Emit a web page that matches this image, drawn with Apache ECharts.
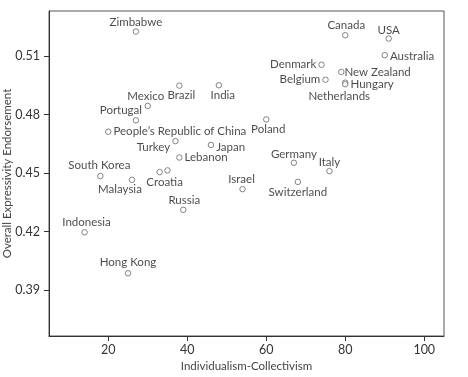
<!DOCTYPE html>
<html>
<head>
<meta charset="utf-8">
<script src="https://cdn.jsdelivr.net/npm/echarts@6/dist/echarts.min.js"></script>
<style>
  html, body { margin: 0; padding: 0; background: #fff; }
  #chart { width: 468px; height: 377px; }
</style>
</head>
<body>
<div id="chart"></div>
<script>
const countries = [
  "Zimbabwe", "Brazil", "India", "Mexico", "Portugal", "People\u2019s Republic of China",
  "Turkey", "Japan", "Lebanon", "South Korea", "Malaysia", "Croatia", "",
  "Russia", "Indonesia", "Hong Kong", "Canada", "USA", "Australia", "Denmark",
  "Belgium", "New Zealand", "Hungary", "Netherlands", "Poland", "Germany",
  "Italy", "Switzerland", "Israel"
];
const individualism = [
  27, 38, 48, 30, 27, 20,
  37, 46, 38, 18, 26, 33, 35,
  39, 14, 25, 80, 91, 90, 74,
  75, 79, 80, 80, 60, 67,
  76, 68, 54
];
const expressivity = [
  0.5225, 0.4948, 0.495, 0.4844, 0.477, 0.4712,
  0.4664, 0.4644, 0.458, 0.4485, 0.4466, 0.4505, 0.4514,
  0.4312, 0.4197, 0.3987, 0.5206, 0.5189, 0.5104, 0.5055,
  0.4978, 0.5018, 0.4963, 0.4955, 0.4775, 0.4553,
  0.451, 0.4455, 0.4418
];
const xTicks = [20, 40, 60, 80, 100];
const yTicks = [0.39, 0.42, 0.45, 0.48, 0.51];

// label placement per point (styling only)
const labelPos = [
  "inside", "inside", "inside", "inside", "inside", "right",
  "left", "right", "right", "inside", "inside", "inside", "inside",
  "inside", "inside", "inside", "inside", "inside", "right", "left",
  "left", "right", "right", "inside", "inside", "inside",
  "inside", "inside", "inside"
];
const labelOffset = [
  [0, -9], [2, 10], [4, 10.5], [-2, -10], [-15, -10], [0, 0],
  [0, 6], [0, 2], [0, 0], [-1, -11], [-12, 10], [5, 10], [0, 0],
  [1, -10], [2, -9.5], [0, -11], [1, -9.5], [0, -8], [0, 1], [0, 0],
  [0, 0], [-2, 0], [0, 1.5], [-6, 12], [2, 10], [0, -8.5],
  [0, -8.5], [0, 10], [-1, -10]
];

const points = countries.map((name, i) => ({
  name: name,
  value: [individualism[i], expressivity[i]],
  label: { position: labelPos[i], offset: labelOffset[i] },
}));

const chart = echarts.init(document.getElementById("chart"));
const font = "Lato, 'Open Sans', sans-serif";

chart.setOption({
  animation: false,
  grid: {
    left: 49,
    right: 24,
    top: 11,
    bottom: 41,
    outerBoundsMode: "none",
    show: true,
    borderColor: "#555",
    borderWidth: 1,
  },
  xAxis: {
    type: "value",
    min: 5,
    max: 105,
    name: "Individualism-Collectivism",
    nameLocation: "middle",
    nameGap: 24,
    nameMoveOverlap: false,
    nameTextStyle: { fontFamily: font, fontSize: 11.5, color: "#444" },
    axisLine: { show: true, lineStyle: { color: "#333", width: 1 } },
    axisTick: { show: true, length: 5, customValues: xTicks, lineStyle: { color: "#333" } },
    axisLabel: { customValues: xTicks, margin: 7, fontFamily: font, fontSize: 12.5, color: "#333" },
    splitLine: { show: false },
  },
  yAxis: {
    type: "value",
    min: 0.3666,
    max: 0.533,
    name: "Overall Expressivity Endorsement",
    nameLocation: "middle",
    nameGap: 36,
    nameMoveOverlap: false,
    nameTextStyle: { fontFamily: font, fontSize: 11.5, color: "#444" },
    axisLine: { show: true, lineStyle: { color: "#333", width: 1 } },
    axisTick: { show: true, length: 5, customValues: yTicks, lineStyle: { color: "#333" } },
    axisLabel: {
      customValues: yTicks,
      margin: 9,
      fontFamily: font,
      fontSize: 12.5,
      color: "#333",
      formatter: (v) => v.toFixed(2),
    },
    splitLine: { show: false },
  },
  series: [
    {
      type: "scatter",
      symbol: "circle",
      symbolSize: 5.5,
      data: points,
      itemStyle: { color: "#fff", borderColor: "#555", borderWidth: 0.9 },
      label: {
        show: true,
        formatter: "{b}",
        distance: 2,
        fontFamily: font,
        fontSize: 11.5,
        lineHeight: 13,
        color: "#1a1a1a",
      },
      emphasis: { disabled: true },
    },
  ],
});
</script>
</body>
</html>
